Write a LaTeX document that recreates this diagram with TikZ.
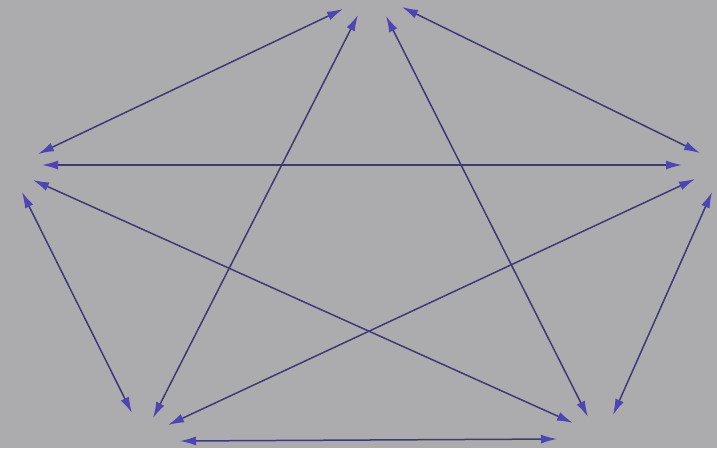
\documentclass[tikz,border=0pt]{standalone}
\usetikzlibrary{arrows.meta}
\definecolor{bg}{RGB}{172,171,174}
\definecolor{edge}{RGB}{62,58,118}
\definecolor{head}{RGB}{78,68,178}
\tikzset{
  link/.style={draw=edge, line width=1.5pt,
    {Latex[length=16pt,width=9pt,color=head]}-{Latex[length=16pt,width=9pt,color=head]}}
}
\begin{document}
\begin{tikzpicture}[x=1pt,y=-1pt]
\fill[bg] (0,0) rectangle (717,448);
\useasboundingbox (0,0) rectangle (717,448);
% top vertex endpoints
\coordinate (t1) at (343,9);
\coordinate (t2) at (358,15);
\coordinate (t3) at (386,16);
\coordinate (t4) at (402,7);
% left vertex endpoints
\coordinate (l1) at (38,154);
\coordinate (l2) at (42,165);
\coordinate (l3) at (33,180);
\coordinate (l4) at (22,192);
% right vertex endpoints
\coordinate (r1) at (700,153);
\coordinate (r2) at (682,165);
\coordinate (r3) at (695,179);
\coordinate (r4) at (712,192);
% bottom-left endpoints
\coordinate (a1) at (132,413);
\coordinate (a2) at (153,418);
\coordinate (a3) at (168,425);
\coordinate (a4) at (180,441);
% bottom-right endpoints
\coordinate (b1) at (573,423);
\coordinate (b2) at (588,417);
\coordinate (b3) at (613,415);
\coordinate (b4) at (557,439);
\draw[link] (t1) -- (l1);
\draw[link] (t2) -- (a2);
\draw[link] (t3) -- (b2);
\draw[link] (t4) -- (r1);
\draw[link] (l2) -- (r2);
\draw[link] (l3) -- (b1);
\draw[link] (l4) -- (a1);
\draw[link] (r3) -- (a3);
\draw[link] (r4) -- (b3);
\draw[link] (a4) -- (b4);
\end{tikzpicture}
\end{document}
